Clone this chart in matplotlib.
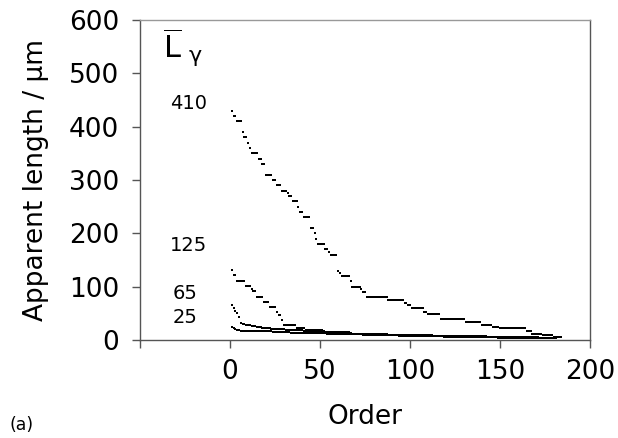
import matplotlib.pyplot as plt
import numpy as np

# apparent lengths, stored as (level, count) runs
# each series is sorted in descending order, order index starts at 1
L410_LEVELS = [430, 420, 410, 390, 380, 370, 360, 350, 340, 330, 310, 300,
               290, 280, 275, 270, 260, 250, 240, 230, 210, 200, 190, 180,
               170, 165, 160, 130, 125, 120, 110, 100, 95, 90, 80, 75, 70,
               66, 60, 52, 48, 40, 33, 29, 25, 22, 16, 12, 9, 6]
L410_COUNTS = [1, 2, 3, 1, 2, 1, 1, 4, 2, 2, 4, 2,
               3, 3, 1, 2, 3, 1, 2, 4, 2, 1, 1, 4,
               2, 1, 4, 1, 1, 5, 1, 5, 1, 2, 12, 9, 2,
               2, 7, 2, 7, 14, 9, 6, 4, 15, 3, 6, 6, 5]

L125_LEVELS = [131, 122, 111, 101, 95, 91, 81, 72, 61, 53, 47, 38, 28, 22,
               18, 15, 12, 10, 8, 6, 4]
L125_COUNTS = [1, 2, 5, 3, 1, 2, 4, 3, 4, 1, 2, 1, 7, 5,
               10, 15, 20, 25, 30, 30, 10]

L65_LEVELS = [65, 60, 55, 50, 44, 32, 30, 28, 26, 24, 22, 20, 18, 16, 14,
              12, 10, 8, 6, 4]
L65_COUNTS = [1, 1, 1, 1, 1, 1, 2, 3, 3, 3, 5, 8, 10, 12, 15,
              20, 25, 30, 25, 13]

L25_LEVELS = [25, 22, 20, 18, 17, 16, 15, 14, 13, 12, 11, 10, 9, 8, 7, 6,
              5, 4, 3]
L25_COUNTS = [1, 1, 1, 2, 8, 10, 10, 10, 10, 10, 10, 10, 10, 10, 15, 15,
              15, 15, 17]

SERIES_LABELS = ["410", "125", "65", "25"]
LABEL_POS = [(-23, 444), (-23, 178), (-25, 88), (-25, 42)]

X_TICKS = [-50, 0, 50, 100, 150, 200]
X_TICK_LABELS = ["", "0", "50", "100", "150", "200"]
Y_TICKS = [0, 100, 200, 300, 400, 500, 600]


def expand(levels, counts):
    values = np.repeat(np.array(levels, dtype=float), counts)
    order = np.arange(1, len(values) + 1)
    return order, values


def main() -> None:
    plt.rcParams["font.family"] = ["DejaVu Sans"]
    fig = plt.figure(figsize=(6.18, 4.38), dpi=100)
    ax = fig.add_axes([0.2265, 0.2237, 0.7282, 0.7306])

    for levels, counts in [(L410_LEVELS, L410_COUNTS), (L125_LEVELS, L125_COUNTS),
                           (L65_LEVELS, L65_COUNTS), (L25_LEVELS, L25_COUNTS)]:
        order, values = expand(levels, counts)
        ax.plot(order, values, linestyle="none", marker="s", markersize=2.0,
                markeredgewidth=0, color="black")

    for text, (x, y) in zip(SERIES_LABELS, LABEL_POS):
        ax.text(x, y, text, fontsize=14, ha="center", va="center")

    # L-bar with upright gamma subscript
    ax.text(-32, 548, r"$\overline{\mathrm{L}}$", fontsize=22,
            ha="center", va="center")
    ax.text(-19.5, 533, "γ", fontsize=16, ha="center", va="center")

    ax.set_xlim(-50, 200)
    ax.set_ylim(0, 600)
    ax.set_xticks(X_TICKS)
    ax.set_xticklabels(X_TICK_LABELS)
    ax.set_yticks(Y_TICKS)
    ax.tick_params(axis="both", direction="out", length=6, width=1.0,
                   color="#555555", labelsize=19)
    ax.tick_params(axis="x", pad=8)
    ax.tick_params(axis="y", pad=9)

    for side in ["left", "bottom", "right"]:
        ax.spines[side].set_color("#555555")
        ax.spines[side].set_linewidth(1.0)
    ax.spines["top"].set_color("#999999")
    ax.spines["top"].set_linewidth(1.0)

    ax.set_xlabel("Order", fontsize=19, labelpad=13)
    ax.set_ylabel("Apparent length / μm", fontsize=19, labelpad=14)
    fig.text(0.016, 0.03, "(a)", fontsize=12.5, ha="left", va="center")

    fig.savefig("out.png", dpi=100)
    plt.close(fig)


if __name__ == "__main__":
    main()
